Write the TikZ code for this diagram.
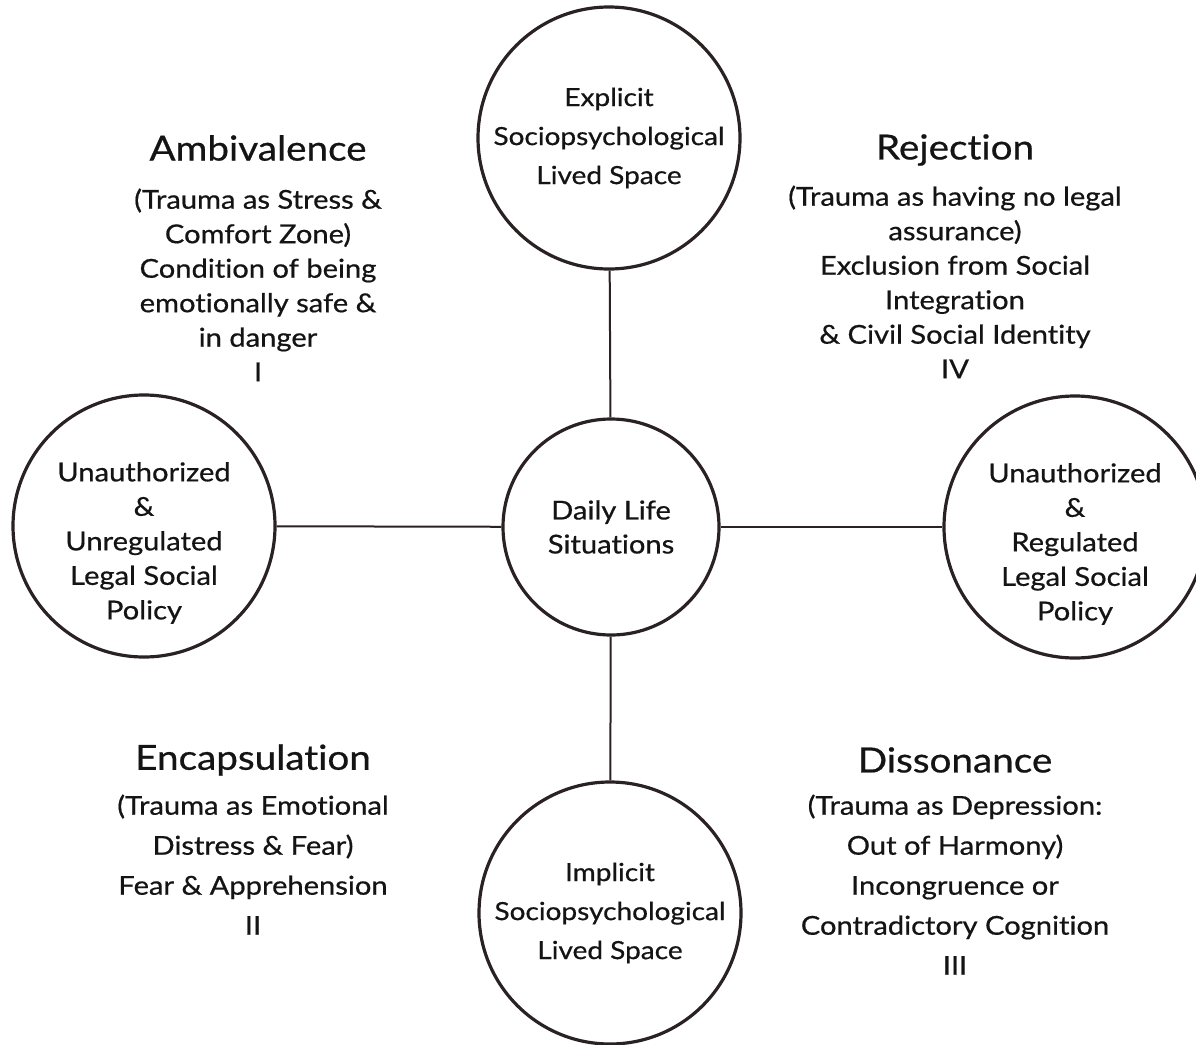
\documentclass[tikz,border=0pt]{standalone}
\usepackage{fontspec}
\setmainfont{Lato}[FakeStretch=1.12,FakeBold=0.6,Ligatures=NoCommon]
\definecolor{ring}{RGB}{42,34,34}
\definecolor{ink}{RGB}{20,20,20}
\begin{document}
\begin{tikzpicture}[x=1pt,y=-1pt,
  circ/.style={circle,draw=ring,line width=3.2pt,inner sep=0pt,text=ink,align=center,
    font=\fontsize{25}{39}\selectfont},
  bigcirc/.style={circ,minimum size=262pt},
  midcirc/.style={circ,minimum size=216pt,font=\fontsize{26}{34}\selectfont},
  ctext/.style={align=center,text=ink,font=\fontsize{26}{34.5}\selectfont},
  head/.style={text=ink,font=\fontsize{34.5}{40}\selectfont},
  body/.style={align=center,text=ink,font=\fontsize{26}{34.5}\selectfont},
  bodyw/.style={align=center,text=ink,font=\fontsize{26}{40}\selectfont},
  link/.style={draw=ring,line width=2pt}]
\useasboundingbox (0,0) rectangle (1196,1044);
\fill[white] (0,0) rectangle (1196,1044);
\clip (0,0) rectangle (1196,1044);

\node[bigcirc] (top) at (609,138) {Explicit\\Sociopsychological\\Lived Space};
\node[bigcirc] (bot) at (610,913) {Implicit\\Sociopsychological\\Lived Space};
\node[bigcirc] (lft) at (144,526) {};
\node[bigcirc] (rgt) at (1075,527) {};
\node[midcirc] (mid) at (611,527) {Daily Life\\Situations};

\node[ctext] (lftt) at ([yshift=-17pt]lft.center) {Unauthorized\\\&\\Unregulated\\Legal Social\\Policy};
\node[ctext] (rgtt) at ([yshift=-17pt]rgt.center) {Unauthorized\\\&\\Regulated\\Legal Social\\Policy};

\draw[link] (top) -- (mid);
\draw[link] (mid) -- (bot);
\draw[link] (lft) -- (mid);
\draw[link] (mid) -- (rgt);

\node[head] (hA) at (258,148) {Ambivalence};
\node[body,anchor=north] (tA) at (258,185) {(Trauma as Stress \&\\Comfort Zone)\\Condition of being\\emotionally safe \&\\in danger\\I};

\node[head] (hR) at (955,150) {Rejection};
\node[body,anchor=north] (tR) at (955,182) {(Trauma as having no legal\\assurance)\\Exclusion from Social\\Integration\\\& Civil Social Identity\\IV};

\node[head] (hE) at (253,760) {Encapsulation};
\node[bodyw,anchor=north] (tE) at (253,791) {(Trauma as Emotional\\Distress \& Fear)\\Fear \& Apprehension\\II};

\node[head] (hD) at (955,760) {Dissonance};
\node[bodyw,anchor=north] (tD) at (955,791) {(Trauma as Depression:\\Out of Harmony)\\Incongruence or\\Contradictory Cognition\\III};
\end{tikzpicture}
\end{document}
